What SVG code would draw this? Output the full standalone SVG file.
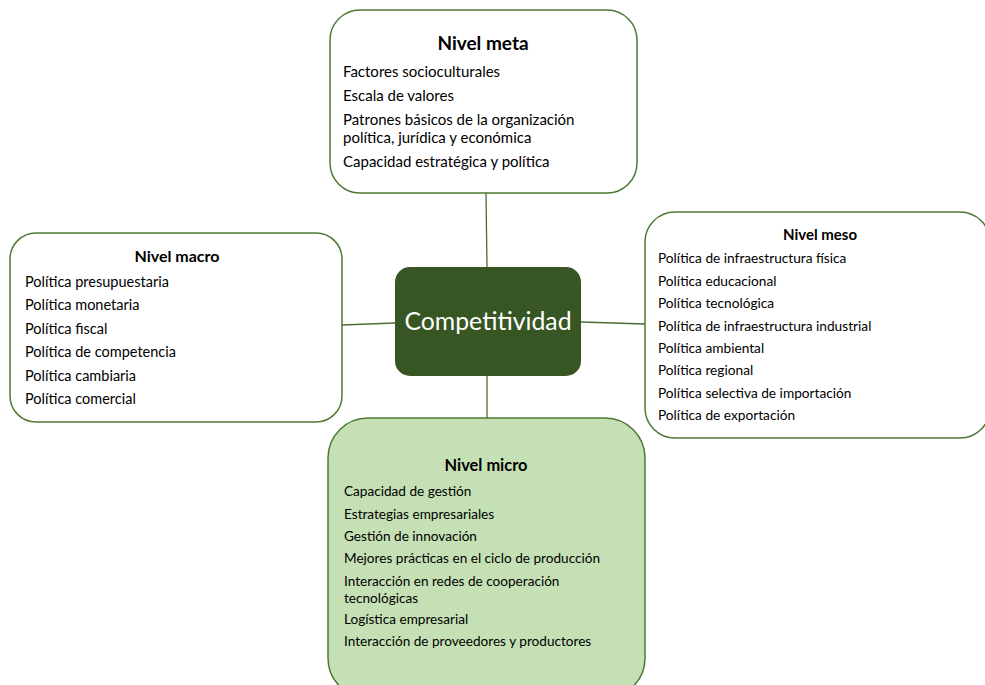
<svg xmlns="http://www.w3.org/2000/svg" width="985" height="685" viewBox="0 0 985 685">
<style>
.box{fill:#ffffff;stroke:#4f7a32;stroke-width:1.5}
.micro{fill:#c5e0b4;stroke:#4f7a32;stroke-width:1.5}
.core{fill:#375623;stroke:none}
.t{font-family:Lato,"Open Sans",sans-serif;fill:#000}
.h{font-family:Lato,"Open Sans",sans-serif;font-weight:bold;fill:#000;text-anchor:middle}
.c{stroke:#4a6b34;stroke-width:1.3;fill:none}
</style>
<rect width="985" height="685" fill="#ffffff"/>
<g id="connectors">
<line class="c" x1="486" y1="193" x2="487" y2="267"/>
<line class="c" x1="342" y1="325" x2="395" y2="323"/>
<line class="c" x1="581" y1="322" x2="645" y2="324"/>
<line class="c" x1="487" y1="376" x2="487" y2="418"/>
</g>
<g id="meta">
<rect class="box" x="330" y="10" width="307" height="183" rx="30"/>
<text class="h" x="483" y="50" font-size="19">Nivel meta</text>
<g class="t" font-size="15">
<text x="343" y="77">Factores socioculturales</text>
<text x="343" y="101">Escala de valores</text>
<text x="343" y="125">Patrones básicos de la organización</text>
<text x="343" y="143">política, jurídica y económica</text>
<text x="343" y="167">Capacidad estratégica y política</text>
</g>
</g>
<g id="macro">
<rect class="box" x="10" y="233" width="332" height="189" rx="26"/>
<text class="h" x="177" y="262" font-size="16">Nivel macro</text>
<g class="t" font-size="14.5">
<text x="25" y="287">Política presupuestaria</text>
<text x="25" y="310">Política monetaria</text>
<text x="25" y="334">Política fiscal</text>
<text x="25" y="357">Política de competencia</text>
<text x="25" y="381">Política cambiaria</text>
<text x="25" y="404">Política comercial</text>
</g>
</g>
<g id="meso">
<rect class="box" x="645" y="212" width="345" height="226" rx="30"/>
<text class="h" x="820" y="240" font-size="15">Nivel meso</text>
<g class="t" font-size="13.7">
<text x="658" y="263">Política de infraestructura física</text>
<text x="658" y="286">Política educacional</text>
<text x="658" y="308">Política tecnológica</text>
<text x="658" y="331">Política de infraestructura industrial</text>
<text x="658" y="353">Política ambiental</text>
<text x="658" y="375">Política regional</text>
<text x="658" y="398">Política selectiva de importación</text>
<text x="658" y="420">Política de exportación</text>
</g>
</g>
<g id="micro">
<rect class="micro" x="328" y="418" width="317" height="280" rx="40"/>
<text class="h" x="486" y="471" font-size="16.4">Nivel micro</text>
<g class="t" font-size="13.6">
<text x="344" y="496">Capacidad de gestión</text>
<text x="344" y="519">Estrategias empresariales</text>
<text x="344" y="541">Gestión de innovación</text>
<text x="344" y="563">Mejores prácticas en el ciclo de producción</text>
<text x="344" y="586">Interacción en redes de cooperación</text>
<text x="344" y="603">tecnológicas</text>
<text x="344" y="624">Logística empresarial</text>
<text x="344" y="646">Interacción de proveedores  y productores</text>
</g>
</g>
<g id="competitividad">
<rect class="core" x="395" y="267" width="186" height="109" rx="15"/>
<text x="488" y="330" font-family="Lato,'Open Sans',sans-serif" font-size="24.8" fill="#ffffff" text-anchor="middle">Competitividad</text>
</g>
</svg>
